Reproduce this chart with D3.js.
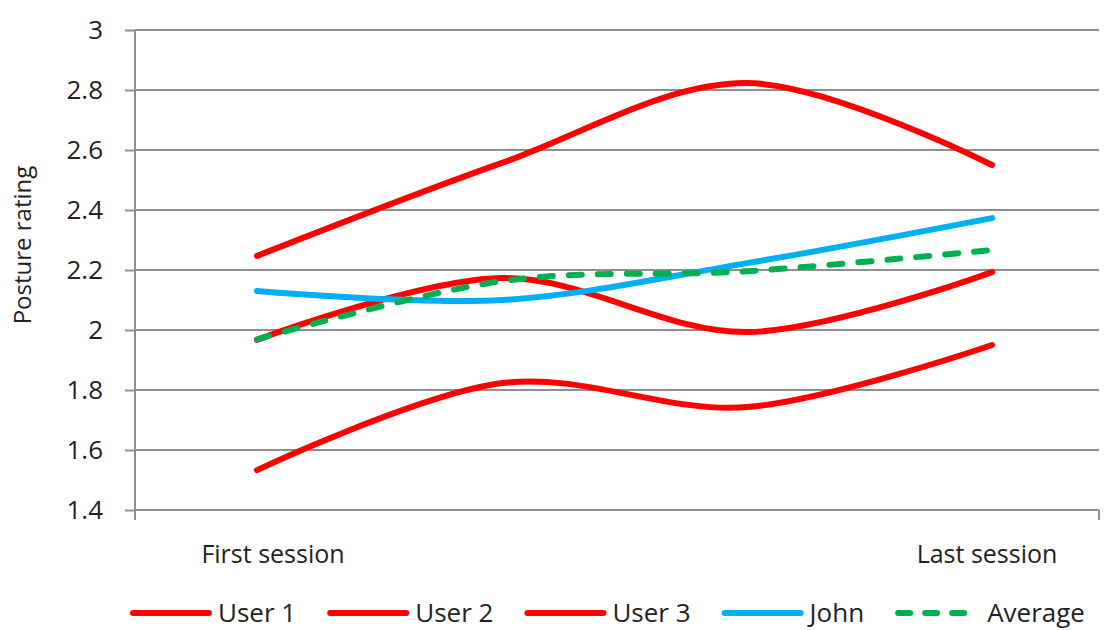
<!DOCTYPE html>
<html>
  <head>
    <title>Posture rating</title>
    <script src="https://d3js.org/d3.v7.min.js"></script>
    <style>
      body {
        margin: 0;
        background: #fff;
      }
      svg {
        display: block;
      }
    </style>
  </head>
  <body>
    <svg id="chart"></svg>
    <script>
      // data
      const sessions = ["First session", "Session 2", "Session 3", "Last session"];
      const sessionLabels = ["First session", "", "", "Last session"];
      const seriesNames = ["User 1", "User 2", "User 3", "John", "Average"];
      const user1 = [2.247, 2.557, 2.823, 2.55];
      const user2 = [1.967, 2.173, 1.993, 2.193];
      const user3 = [1.533, 1.823, 1.743, 1.95];
      const john = [2.13, 2.1, 2.223, 2.373];
      const average = [1.969, 2.163, 2.196, 2.267];
      const yTicks = [1.4, 1.6, 1.8, 2, 2.2, 2.4, 2.6, 2.8, 3];

      const width = 1115;
      const height = 630;
      const plot = { left: 135, top: 30, right: 1099, bottom: 510 };

      const svg = d3.select("#chart").attr("width", width).attr("height", height);

      const x = d3.scalePoint().domain(sessions).range([257, 992]);
      const y = d3.scaleLinear().domain([1.4, 3]).range([plot.bottom, plot.top]);

      const gridColor = "#8f8f8f";
      const numFont = "'Open Sans', sans-serif";

      // horizontal grid lines
      svg
        .append("g")
        .selectAll("line")
        .data(yTicks)
        .join("line")
        .attr("x1", plot.left)
        .attr("x2", plot.right)
        .attr("y1", d => y(d))
        .attr("y2", d => y(d))
        .attr("stroke", gridColor)
        .attr("stroke-width", 2);

      // y axis
      const gy = svg
        .append("g")
        .attr("transform", `translate(${plot.left},0)`)
        .call(d3.axisLeft(y).tickValues(yTicks).tickSize(10).tickPadding(22).tickFormat(d3.format("~g")));
      gy.select(".domain").remove();
      gy.selectAll(".tick line").attr("stroke", gridColor).attr("stroke-width", 2);
      gy.selectAll(".tick text")
        .attr("fill", "#222")
        .style("font", `26px ${numFont}`);
      svg
        .append("line")
        .attr("x1", plot.left)
        .attr("x2", plot.left)
        .attr("y1", plot.top)
        .attr("y2", plot.bottom + 10)
        .attr("stroke", gridColor)
        .attr("stroke-width", 2);
      // right end tick of x axis
      svg
        .append("line")
        .attr("x1", plot.right)
        .attr("x2", plot.right)
        .attr("y1", plot.bottom)
        .attr("y2", plot.bottom + 10)
        .attr("stroke", gridColor)
        .attr("stroke-width", 2);

      // y title
      svg
        .append("text")
        .attr("transform", `translate(31,${(plot.top + plot.bottom) / 2 - 25}) rotate(-90)`)
        .attr("text-anchor", "middle")
        .attr("fill", "#222")
        .style("font", `24px ${numFont}`)
        .text("Posture rating");

      // x labels
      const labelShift = [16, 0, 0, -5];
      svg
        .append("g")
        .selectAll("text")
        .data(sessions)
        .join("text")
        .attr("x", (d, i) => x(d) + labelShift[i])
        .attr("y", 563)
        .attr("text-anchor", "middle")
        .attr("fill", "#222")
        .style("font", `25px ${numFont}`)
        .text((d, i) => sessionLabels[i]);

      // lines
      const series = [
        { name: seriesNames[0], values: user1, color: "#ff0000", dash: null },
        { name: seriesNames[1], values: user2, color: "#ff0000", dash: null },
        { name: seriesNames[2], values: user3, color: "#ff0000", dash: null },
        { name: seriesNames[3], values: john, color: "#00b0f0", dash: null },
        { name: seriesNames[4], values: average, color: "#00b050", dash: "13,16" }
      ];

      const line = d3
        .line()
        .x((d, i) => x(sessions[i]))
        .y(d => y(d))
        .curve(d3.curveCatmullRom.alpha(0));

      svg
        .append("g")
        .selectAll("path")
        .data(series)
        .join("path")
        .attr("d", d => line(d.values))
        .attr("fill", "none")
        .attr("stroke", d => d.color)
        .attr("stroke-width", 6)
        .attr("stroke-linecap", "round")
        .attr("stroke-dasharray", d => d.dash);

      // legend
      const legend = svg.append("g");
      let lx = 130;
      const ly = 613;
      series.forEach((s, i) => {
        const dashed = s.dash !== null;
        const sample = dashed ? 72 : 82;
        legend
          .append("line")
          .attr("x1", lx + 3)
          .attr("x2", lx + sample - 3)
          .attr("y1", ly)
          .attr("y2", ly)
          .attr("stroke", s.color)
          .attr("stroke-width", 6)
          .attr("stroke-linecap", "round")
          .attr("stroke-dasharray", dashed ? "12,15" : null);
        const t = legend
          .append("text")
          .attr("x", lx + sample + (dashed ? 20 : 6))
          .attr("y", ly + 9)
          .attr("fill", "#222")
          .style("font", `26px ${numFont}`)
          .text(s.name);
        lx = lx + sample + (dashed ? 20 : 6) + t.node().getComputedTextLength() + 31;
      });
    </script>
  </body>
</html>
